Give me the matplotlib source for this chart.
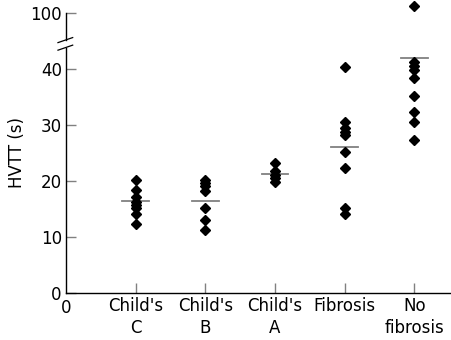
import matplotlib.pyplot as plt
import numpy as np

# HVTT values (s) per group
groups = ["Child's\nC", "Child's\nB", "Child's\nA", "Fibrosis", "No\nfibrosis"]
child_c = [20.2, 18.4, 17.2, 16.3, 15.8, 15.1, 14.1, 12.3]
child_b = [20.2, 19.7, 19.1, 18.3, 15.1, 13.0, 11.2]
child_a = [23.3, 21.7, 21.1, 20.5, 19.9]
fibrosis = [40.4, 30.5, 29.4, 28.7, 28.2, 25.2, 22.3, 15.2, 14.2]
no_fibrosis = [113.0, 41.2, 40.5, 39.8, 38.3, 35.2, 32.4, 30.5, 27.4]
means = [16.4, 16.4, 21.3, 26.1, 41.9]

ytick_vals = [0, 10, 20, 30, 40, 100]


def squash(v):
    # broken axis: above the break 100 sits where 50 would be
    v = np.asarray(v, dtype=float)
    return np.where(v > 45, 50 + (v - 100) / 10.0, v)


fig = plt.figure(figsize=(4.52, 3.40), dpi=100)
ax = fig.add_axes([0.146, 0.138, 0.854, 0.824])

data = [child_c, child_b, child_a, fibrosis, no_fibrosis]
for i, vals in enumerate(data):
    x = np.full(len(vals), i + 1)
    ax.plot(x, squash(vals), linestyle='none', marker='D', markersize=4.8,
            color='black', clip_on=False, zorder=3)
    ax.plot([i + 1 - 0.19, i + 1 + 0.19], squash([means[i]] * 2),
            color='#808080', linewidth=1.3, zorder=2)

ax.set_xlim(0, 5.54)
ax.set_ylim(0, 50)

for s in ['top', 'right', 'left']:
    ax.spines[s].set_visible(False)
ax.spines['bottom'].set_linewidth(1.0)

# left axis drawn in two pieces around the break
ax.plot([0, 0], [0, 43.8], color='black', lw=1.0, clip_on=False)
ax.plot([0, 0], [45.15, 50], color='black', lw=1.0, clip_on=False)
ax.plot([-0.115, 0.096], [43.35, 44.25], color='black', lw=0.9, clip_on=False)
ax.plot([-0.115, 0.096], [44.7, 45.6], color='black', lw=0.9, clip_on=False)

ax.set_yticks(squash(ytick_vals))
ax.set_yticklabels([str(v) for v in ytick_vals])
ax.set_xticks(range(1, 6))
ax.set_xticklabels(groups, linespacing=1.3)
ax.tick_params(direction='in', length=7, width=1.0, color='#808080',
               labelsize=12, pad=3)
ax.tick_params(axis='y', pad=3)
ax.text(0, -1.0, '0', ha='center', va='top', fontsize=12)

ax.set_ylabel('HVTT (s)', fontsize=12)
ax.yaxis.set_label_coords(-0.104, 0.5)

fig.savefig('out.png', dpi=100)
